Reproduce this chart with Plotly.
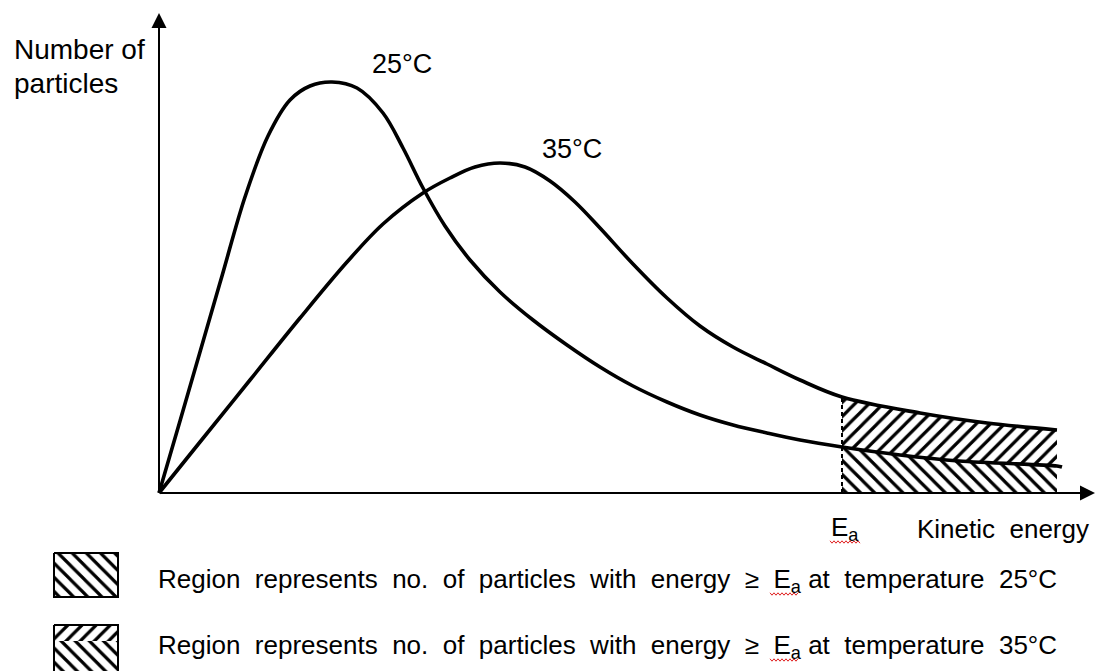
import plotly.graph_objects as go

# ---------------- data (arbitrary energy / particle-count units) ----------------
energy_25 = [0.00, 0.21, 0.41, 0.63, 0.86, 1.09, 1.31, 1.51, 1.73, 1.98, 2.24, 2.44, 2.64, 2.86,
             3.11, 3.41, 3.74, 4.08, 4.41, 4.74, 5.08, 5.41, 5.74, 6.08, 6.41, 6.83, 7.41, 8.00,
             8.98, 9.03]
number_25 = [0.00, 0.72, 1.41, 2.17, 2.96, 3.57, 3.93, 4.07, 4.11, 4.05, 3.80, 3.45, 3.05, 2.67,
             2.33, 2.01, 1.73, 1.48, 1.26, 1.07, 0.91, 0.78, 0.68, 0.60, 0.53, 0.46, 0.38, 0.32,
             0.27, 0.26]

energy_35 = [0.00, 0.41, 0.91, 1.41, 1.88, 2.24, 2.64, 2.91, 3.16, 3.41, 3.66, 3.91, 4.16, 4.41,
             4.74, 5.08, 5.41, 5.74, 6.08, 6.41, 6.83, 7.61, 8.28, 8.98]
number_35 = [0.00, 0.51, 1.13, 1.75, 2.31, 2.69, 3.00, 3.15, 3.26, 3.30, 3.26, 3.12, 2.91, 2.65,
             2.29, 1.95, 1.67, 1.46, 1.29, 1.13, 0.96, 0.80, 0.70, 0.63]

activation_energy = 6.83      # E_a
shade_end = 8.98              # right edge of the hatched regions

curve_labels = ["25°C", "35°C"]
legend_texts = [
    "Region  represents  no.  of  particles  with  energy  ≥  E<sub>a</sub> at  temperature  25°C",
    "Region  represents  no.  of  particles  with  energy  ≥  E<sub>a</sub> at  temperature  35°C",
]

# ---------------- layout helpers ----------------
W, H = 1096, 671
X0_PX, Y0_PX, SCALE = 159, 493, 100.0
FONT = "Liberation Sans, Arial, sans-serif"
FS = 26


def dx(px):
    return (px - X0_PX) / SCALE


def dy(py):
    return (Y0_PX - py) / SCALE


def nb(s):
    return s.replace("  ", " \u00a0")


fig = go.Figure()

# hatched regions (E >= Ea)
tail25 = [(e, n) for e, n in zip(energy_25, number_25) if activation_energy <= e <= shade_end]
tail35 = [(e, n) for e, n in zip(energy_35, number_35) if activation_energy <= e <= shade_end]
pat = dict(fgcolor="#000000", bgcolor="#ffffff", fgopacity=1, size=10, solidity=0.32)

fig.add_trace(go.Scatter(x=[p[0] for p in tail25], y=[p[1] for p in tail25], mode="lines",
                         line=dict(width=0, color="rgba(0,0,0,0)", shape="spline"),
                         fill="tozeroy", fillcolor="white",
                         fillpattern=dict(shape="\\", **pat), hoverinfo="skip"))
fig.add_trace(go.Scatter(x=[p[0] for p in tail35], y=[p[1] for p in tail35], mode="lines",
                         line=dict(width=0, color="rgba(0,0,0,0)", shape="spline"),
                         fill="tonexty", fillcolor="white",
                         fillpattern=dict(shape="/", **pat), hoverinfo="skip"))

# dashed Ea line
ea_top = number_35[energy_35.index(activation_energy)]
fig.add_trace(go.Scatter(x=[activation_energy, activation_energy], y=[0, ea_top], mode="lines",
                         line=dict(color="black", width=2, dash="4px,3px"), hoverinfo="skip"))

# distribution curves
for ex, ny in ((energy_25, number_25), (energy_35, number_35)):
    fig.add_trace(go.Scatter(x=ex, y=ny, mode="lines",
                             line=dict(color="black", width=3.6, shape="spline", smoothing=1.0),
                             hoverinfo="skip"))


# legend swatches
def poly(x0, y0, x1, y1):
    return [dx(x0), dx(x1), dx(x1), dx(x0), dx(x0)], [dy(y0), dy(y0), dy(y1), dy(y1), dy(y0)]


def swatch(x0, y0, x1, y1, shape):
    xs, ys = poly(x0, y0, x1, y1)
    fig.add_trace(go.Scatter(x=xs, y=ys, mode="lines", fill="toself", fillcolor="white",
                             fillpattern=dict(shape=shape, **pat),
                             line=dict(width=0, color="rgba(0,0,0,0)"), hoverinfo="skip"))


def outline(x0, y0, x1, y1):
    xs, ys = poly(x0, y0, x1, y1)
    fig.add_trace(go.Scatter(x=xs, y=ys, mode="lines", line=dict(color="black", width=2),
                             hoverinfo="skip"))


swatch(54, 553, 118, 597, "\\")
outline(54, 553, 118, 597)
swatch(54, 625, 118, 641, "/")
swatch(54, 641, 118, 675, "\\")
outline(54, 625, 118, 675)

annotations = []
# axes with arrows
annotations.append(dict(x=dx(1095), y=0, ax=0, ay=0, xref="x", yref="y", axref="x", ayref="y",
                        text="", showarrow=True, arrowhead=2, arrowsize=1.5, arrowwidth=2,
                        arrowcolor="black", standoff=0))
annotations.append(dict(x=0, y=dy(13), ax=0, ay=0, xref="x", yref="y", axref="x", ayref="y",
                        text="", showarrow=True, arrowhead=2, arrowsize=1.5, arrowwidth=2,
                        arrowcolor="black", standoff=0))


def label(text, left_px, baseline_px, size=FS):
    annotations.append(dict(text=text, x=left_px / W, y=1 - (baseline_px - 0.347 * size) / H,
                            xref="paper", yref="paper", xanchor="left", yanchor="middle",
                            showarrow=False, font=dict(family=FONT, size=size, color="black")))


label("Number of", 12, 59, 28)
label("particles", 12, 93, 28)
label(curve_labels[0], 370, 73, 27)
label(curve_labels[1], 540, 158, 27)
label("E<sub>a</sub>", 829, 538)
label(nb("Kinetic  energy"), 915, 538)
label(nb(legend_texts[0]), 156, 590)
label(nb(legend_texts[1]), 156, 656)


# red spell-check squiggles under "Ea"
def squiggle(x0, x1, y):
    pts = []
    x = x0
    up = True
    while x <= x1:
        pts.append((x / W, 1 - (y - (1.2 if up else -1.2)) / H))
        x += 2
        up = not up
    path = "M " + " L ".join(f"{a:.5f},{b:.5f}" for a, b in pts)
    return dict(type="path", path=path, xref="paper", yref="paper",
                line=dict(color="#e02020", width=1))


shapes = [squiggle(830, 860, 542), squiggle(770, 798, 594), squiggle(770, 798, 660)]

fig.update_layout(
    width=W, height=H, margin=dict(l=0, r=0, t=0, b=0),
    paper_bgcolor="white", plot_bgcolor="white", showlegend=False,
    xaxis=dict(range=[dx(0), dx(W)], visible=False, fixedrange=True),
    yaxis=dict(range=[dy(H), dy(0)], visible=False, fixedrange=True),
    annotations=annotations, shapes=shapes,
)

fig.write_html("out.html", config={"displayModeBar": False, "staticPlot": True},
               post_script="document.body.style.margin='0';document.body.style.overflow='hidden';")
